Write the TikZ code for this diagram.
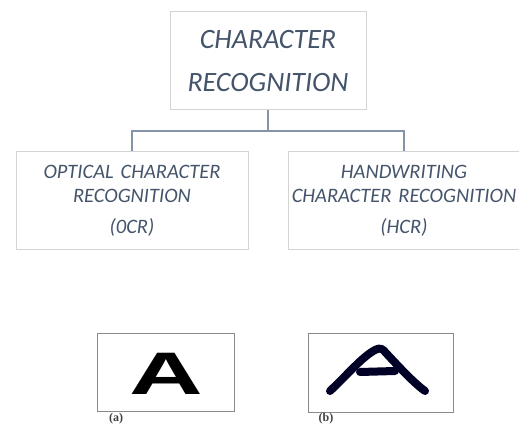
\documentclass[tikz,border=0pt]{standalone}
\usepackage{fontspec}
\setmainfont{Carlito}
\newfontfamily\glyphfont{Liberation Sans}
\newfontfamily\capfont{Liberation Serif}
\definecolor{slate}{HTML}{44546A}
\definecolor{boxgray}{HTML}{D4D4D4}
\definecolor{linkgray}{HTML}{8593A8}
\definecolor{framegray}{HTML}{8A8A8A}
\begin{document}
\begin{tikzpicture}[x=1pt,y=-1pt]
                \tikzset{every node/.style={text=slate},
                    topbox/.style={draw=boxgray,line width=1pt,minimum width=196pt,minimum height=98pt,inner sep=0pt,
                        align=center,font=\itshape\fontsize{28}{43}\selectfont},
                    subbox/.style={draw=boxgray,line width=1pt,minimum width=232pt,minimum height=98pt,inner xsep=0pt,
                        text width=230pt,align=center,font=\itshape\fontsize{20.5}{24}\selectfont},
                    link/.style={draw=linkgray,line width=1.3pt},
                    frame/.style={draw=framegray,line width=1pt,inner sep=0pt},
                    caption/.style={text=black!75,font=\capfont\bfseries\fontsize{12}{12}\selectfont}}
                \useasboundingbox (0,0) rectangle (519,427);
                \node[topbox] (cr) at (268,61) {CHARACTER\\RECOGNITION};
                \node[subbox] (ocr) at (132,201) {OPTICAL CHARACTER\\RECOGNITION\\[7pt](0CR)};
                \node[subbox] (hcr) at (404,201) {HANDWRITING\\CHARACTER RECOGNITION\\[7pt](HCR)};
                \coordinate (split) at (268,131);
                \draw[link] (cr.south) -- (split);
                \draw[link] (split) -| (ocr.north);
                \draw[link] (split) -| (hcr.north);
                % printed and handwritten samples
                \node[frame,minimum width=137pt,minimum height=77pt] (imga) at (165.5,372.5) {};
                \node[text=black,font=\glyphfont\bfseries\fontsize{60}{60}\selectfont,inner sep=0pt] (glyph) at (166,374)
                    {\scalebox{1.7}[1]{A}};
                \node[caption] (capa) at (116,419) {(a)};
                \node[frame,minimum width=145pt,minimum height=78pt] (imgb) at (380.5,373) {};
                \draw[line width=8pt,line cap=round,line join=round,color=black!85!blue]
                    (330,391) .. controls (348,374) and (362,357) .. (375,350)
                    .. controls (380,347) and (383,349) .. (386,353)
                    .. controls (400,368) and (414,383) .. (425,391);
                \draw[line width=8pt,line cap=round,color=black!85!blue] (360,372) -- (395,371);
                \node[caption] (capb) at (326,419) {(b)};
            \end{tikzpicture}
\end{document}
